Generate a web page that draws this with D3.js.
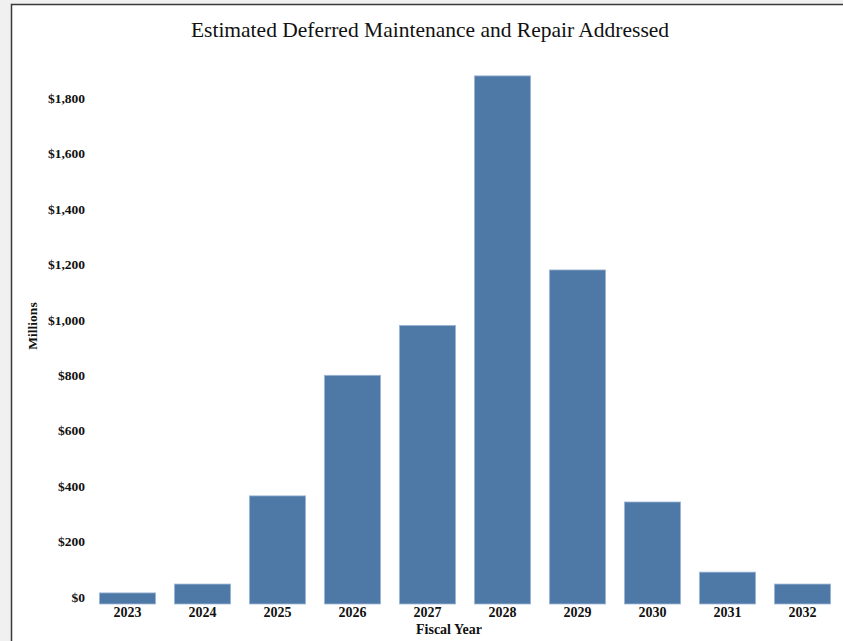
<!DOCTYPE html>
<html>
<head>
<meta charset="utf-8">
<script src="https://cdn.jsdelivr.net/npm/d3@7"></script>
<style>
  html, body { margin: 0; padding: 0; background: #f0f0f0; }
  svg { display: block; }
</style>
</head>
<body>
<div id="chart"></div>
<script>
// data (millions of dollars)
const years = ['2023', '2024', '2025', '2026', '2027', '2028', '2029', '2030', '2031', '2032'];
const values = [40, 72, 390, 825, 1005, 1905, 1205, 368, 115, 72];
const yTicks = [0, 200, 400, 600, 800, 1000, 1200, 1400, 1600, 1800];

const width = 843;
const height = 641;

const svg = d3.select('#chart')
  .append('svg')
  .attr('width', width)
  .attr('height', height);

// white panel with dark frame on top/left
svg.append('rect')
  .attr('x', 11.5)
  .attr('y', 4.5)
  .attr('width', width)
  .attr('height', height)
  .attr('fill', '#ffffff')
  .attr('stroke', '#3a3a3a')
  .attr('stroke-width', 1.5);

const x = d3.scaleBand()
  .domain(years)
  .range([90, 840])
  .paddingInner(0.25)
  .paddingOuter(0.125);

const y = d3.scaleLinear()
  .domain([0, 1800])
  .range([604, 105]);

// bars
svg.append('g')
  .selectAll('rect')
  .data(years.map((yr, i) => ({ yr, v: values[i] })))
  .join('rect')
  .attr('x', d => x(d.yr))
  .attr('y', d => y(d.v))
  .attr('width', x.bandwidth())
  .attr('height', d => y(0) - y(d.v))
  .attr('fill', '#4e78a6')
  .attr('stroke', '#9fb8d6')
  .attr('stroke-width', 0.8);

// y axis labels (no line)
const yAxis = d3.axisLeft(y)
  .tickValues(yTicks)
  .tickSize(0)
  .tickPadding(0)
  .tickFormat(d => '$' + d3.format(',')(d));

svg.append('g')
  .attr('transform', 'translate(85,-7)')
  .call(yAxis)
  .call(g => g.select('.domain').remove())
  .selectAll('text')
  .attr('font-family', '"Liberation Serif", "Times New Roman", serif')
  .attr('font-weight', 'bold')
  .attr('font-size', '13.5px')
  .attr('fill', '#111');

// x axis labels
const xAxis = d3.axisBottom(x).tickSize(0).tickPadding(0);

svg.append('g')
  .attr('transform', 'translate(0,604)')
  .call(xAxis)
  .call(g => g.select('.domain').remove())
  .selectAll('text')
  .attr('dy', '0.75em')
  .attr('y', 2)
  .attr('font-family', '"Liberation Serif", "Times New Roman", serif')
  .attr('font-weight', 'bold')
  .attr('font-size', '14px')
  .attr('fill', '#111');

// title
svg.append('text')
  .attr('x', 430)
  .attr('y', 32)
  .attr('text-anchor', 'middle')
  .attr('dominant-baseline', 'middle')
  .attr('font-family', '"Liberation Serif", "Times New Roman", serif')
  .attr('font-size', '21.5px')
  .attr('fill', '#111')
  .text('Estimated Deferred Maintenance and Repair Addressed');

// axis titles
svg.append('text')
  .attr('x', 449)
  .attr('y', 631)
  .attr('text-anchor', 'middle')
  .attr('dominant-baseline', 'middle')
  .attr('font-family', '"Liberation Serif", "Times New Roman", serif')
  .attr('font-weight', 'bold')
  .attr('font-size', '14px')
  .attr('fill', '#111')
  .text('Fiscal Year');

svg.append('text')
  .attr('transform', 'translate(34,326) rotate(-90)')
  .attr('text-anchor', 'middle')
  .attr('dominant-baseline', 'middle')
  .attr('font-family', '"Liberation Serif", "Times New Roman", serif')
  .attr('font-weight', 'bold')
  .attr('font-size', '13.5px')
  .attr('fill', '#111')
  .text('Millions');
</script>
</body>
</html>
